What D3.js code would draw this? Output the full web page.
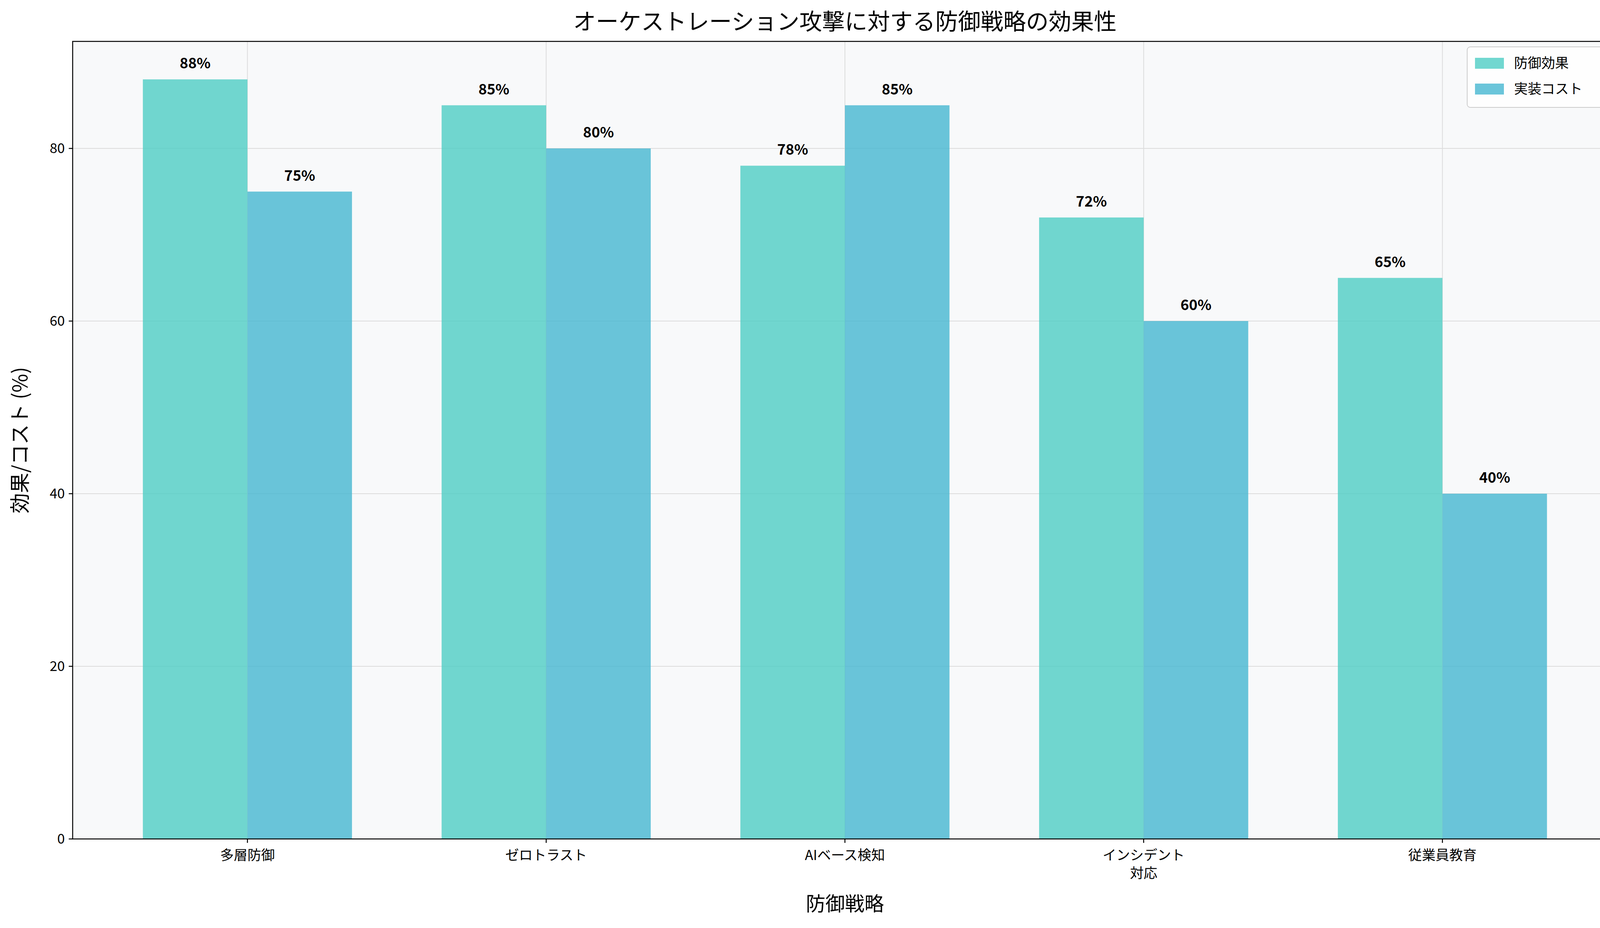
<!DOCTYPE html>
<html><head><meta charset="utf-8">
<script src="https://cdn.jsdelivr.net/npm/d3@7"></script>
<style>body{margin:0;background:#fff}text{font-family:"Noto Sans CJK JP","DejaVu Sans",sans-serif}</style>
</head><body>
<script>
const categories = ['多層防御', 'ゼロトラスト', 'AIベース検知', 'インシデント\n対応', '従業員教育'];
const effect = [88, 85, 78, 72, 65];
const cost = [75, 80, 85, 60, 40];
const seriesNames = ['防御効果', '実装コスト'];
const colors = ['#4ECDC4', '#45B7D1'];
const yTicks = [0, 20, 40, 60, 80];

const width = 4169, height = 2376;
const margin = {top: 106, right: 29, bottom: 228, left: 186};
const innerW = width - margin.left - margin.right;
const innerH = height - margin.top - margin.bottom;

const svg = d3.select('body').append('svg').attr('width', width).attr('height', height);
const g = svg.append('g').attr('transform', 'translate(' + margin.left + ',' + margin.top + ')');

const x = d3.scaleLinear().domain([-0.585, 4.585]).range([0, innerW]);
const y = d3.scaleLinear().domain([0, 92.4]).range([innerH, 0]);
const bw = 0.35;

g.append('rect').attr('width', innerW).attr('height', innerH).attr('fill', '#f8f9fa');

//grid
g.selectAll('.hg').data(yTicks).enter().append('line')
  .attr('x1', 0).attr('x2', innerW).attr('y1', d => y(d)).attr('y2', d => y(d))
  .attr('stroke', '#dcdcdc').attr('stroke-width', 2);
g.selectAll('.vg').data(categories).enter().append('line')
  .attr('x1', (d, i) => x(i)).attr('x2', (d, i) => x(i)).attr('y1', 0).attr('y2', innerH)
  .attr('stroke', '#dcdcdc').attr('stroke-width', 2);

//bars
[effect, cost].forEach((vals, s) => {
  const off = s === 0 ? -bw / 2 : bw / 2;
  g.selectAll('.b' + s).data(vals).enter().append('rect')
    .attr('x', (d, i) => x(i + off - bw / 2)).attr('width', x(bw) - x(0))
    .attr('y', d => y(d)).attr('height', d => innerH - y(d))
    .attr('fill', colors[s]).attr('fill-opacity', 0.8);
  g.selectAll('.l' + s).data(vals).enter().append('text')
    .attr('x', (d, i) => x(i + off)).attr('y', d => y(d) - 28)
    .attr('text-anchor', 'middle').attr('font-size', 37).attr('font-weight', 'bold')
    .text(d => d + '%');
});

//axes
g.append('rect').attr('width', innerW).attr('height', innerH).attr('fill', 'none')
  .attr('stroke', '#000').attr('stroke-width', 2.5);
yTicks.forEach(t => {
  g.append('line').attr('x1', -10).attr('x2', 0).attr('y1', y(t)).attr('y2', y(t)).attr('stroke', '#000').attr('stroke-width', 2.5);
  g.append('text').attr('x', -20).attr('y', y(t)).attr('dy', '0.35em').attr('text-anchor', 'end')
    .attr('font-size', 35).text(t);
});
categories.forEach((c, i) => {
  g.append('line').attr('x1', x(i)).attr('x2', x(i)).attr('y1', innerH).attr('y2', innerH + 10).attr('stroke', '#000').attr('stroke-width', 2.5);
  c.split('\n').forEach((line, j) => {
    g.append('text').attr('x', x(i)).attr('y', innerH + 54 + j * 46).attr('text-anchor', 'middle')
      .attr('font-size', 35).text(line);
  });
});

svg.append('text').attr('x', margin.left + innerW / 2).attr('y', 76).attr('text-anchor', 'middle')
  .attr('font-size', 58).text('オーケストレーション攻撃に対する防御戦略の効果性');
svg.append('text').attr('x', margin.left + innerW / 2).attr('y', height - 44).attr('text-anchor', 'middle')
  .attr('font-size', 50).text('防御戦略');
svg.append('text').attr('transform', 'translate(70,' + (margin.top + innerH / 2) + ') rotate(-90)')
  .attr('text-anchor', 'middle').attr('font-size', 52).text('効果/コスト (%)');

//legend
const lg = g.append('g').attr('transform', 'translate(' + (innerW - 384) + ',14)');
lg.append('rect').attr('width', 366).attr('height', 155).attr('rx', 8).attr('fill', '#fff')
  .attr('fill-opacity', 0.8).attr('stroke', '#ccc').attr('stroke-width', 2);
seriesNames.forEach((n, i) => {
  lg.append('rect').attr('x', 20).attr('y', 28 + i * 66).attr('width', 74).attr('height', 28)
    .attr('fill', colors[i]).attr('fill-opacity', 0.8);
  lg.append('text').attr('x', 120).attr('y', 42 + i * 66).attr('dy', '0.35em').attr('font-size', 35).text(n);
});
</script>
</body></html>
